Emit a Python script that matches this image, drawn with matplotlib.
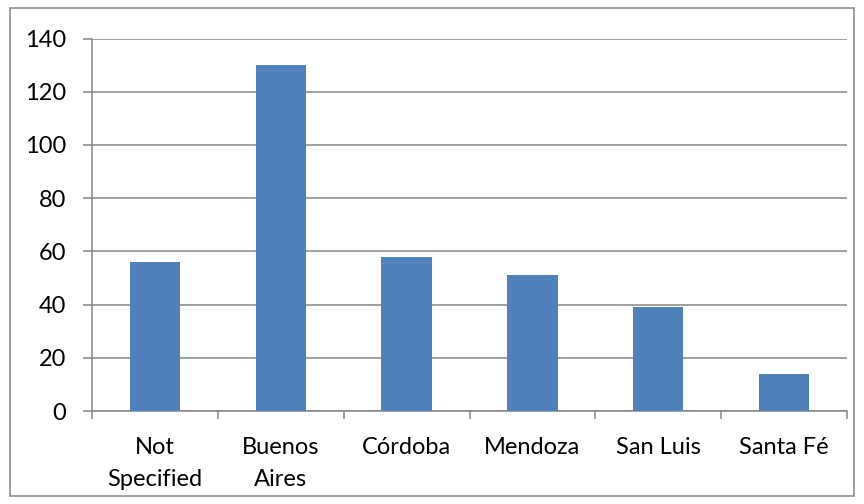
import matplotlib
matplotlib.use("Agg")
import matplotlib.pyplot as plt
from matplotlib.patches import Rectangle
import numpy as np

categories = ["Not\nSpecified", "Buenos\nAires", "Córdoba", "Mendoza", "San Luis", "Santa Fé"]
values = [56, 130, 58, 51, 39, 14]
yticks = [0, 20, 40, 60, 80, 100, 120, 140]

plt.rcParams['font.family'] = ['Lato', 'DejaVu Sans']
grey = "#868686"

fig = plt.figure(figsize=(8.64, 5.04), dpi=100)
ax = fig.add_axes([92/864, 1-411/504, (847-92)/864, (411-38.5)/504])

x = np.arange(len(categories))
ax.bar(x, values, width=0.4, color="#4F81BD", zorder=3)

ax.set_xlim(-0.5, len(categories) - 0.5)
ax.set_ylim(0, 140)
ax.set_yticks(yticks)
ax.set_yticklabels([str(v) for v in yticks], fontsize=17)
ax.yaxis.grid(True, color=grey, linewidth=1.1, zorder=0)
ax.set_axisbelow(True)

ax.set_xticks(x)
ax.set_xticklabels(categories, fontsize=17, linespacing=1.6, va="top")
ax.set_xticks(np.arange(-0.5, len(categories), 1.0), minor=True)
ax.tick_params(axis="x", which="major", length=0, pad=19)
ax.tick_params(axis="x", which="minor", length=6, color=grey, width=1.1)
ax.tick_params(axis="y", length=6.5, color=grey, width=1.1, pad=12)

for s in ["top", "right"]:
    ax.spines[s].set_visible(False)
for s in ["left", "bottom"]:
    ax.spines[s].set_color(grey)
    ax.spines[s].set_linewidth(1.1)

fig.patches.append(Rectangle((10/864, 8/504), (854-10)/864, (496-8)/504,
                             transform=fig.transFigure, fill=False,
                             edgecolor=grey, linewidth=1.1))

fig.savefig("out.png", dpi=100)
